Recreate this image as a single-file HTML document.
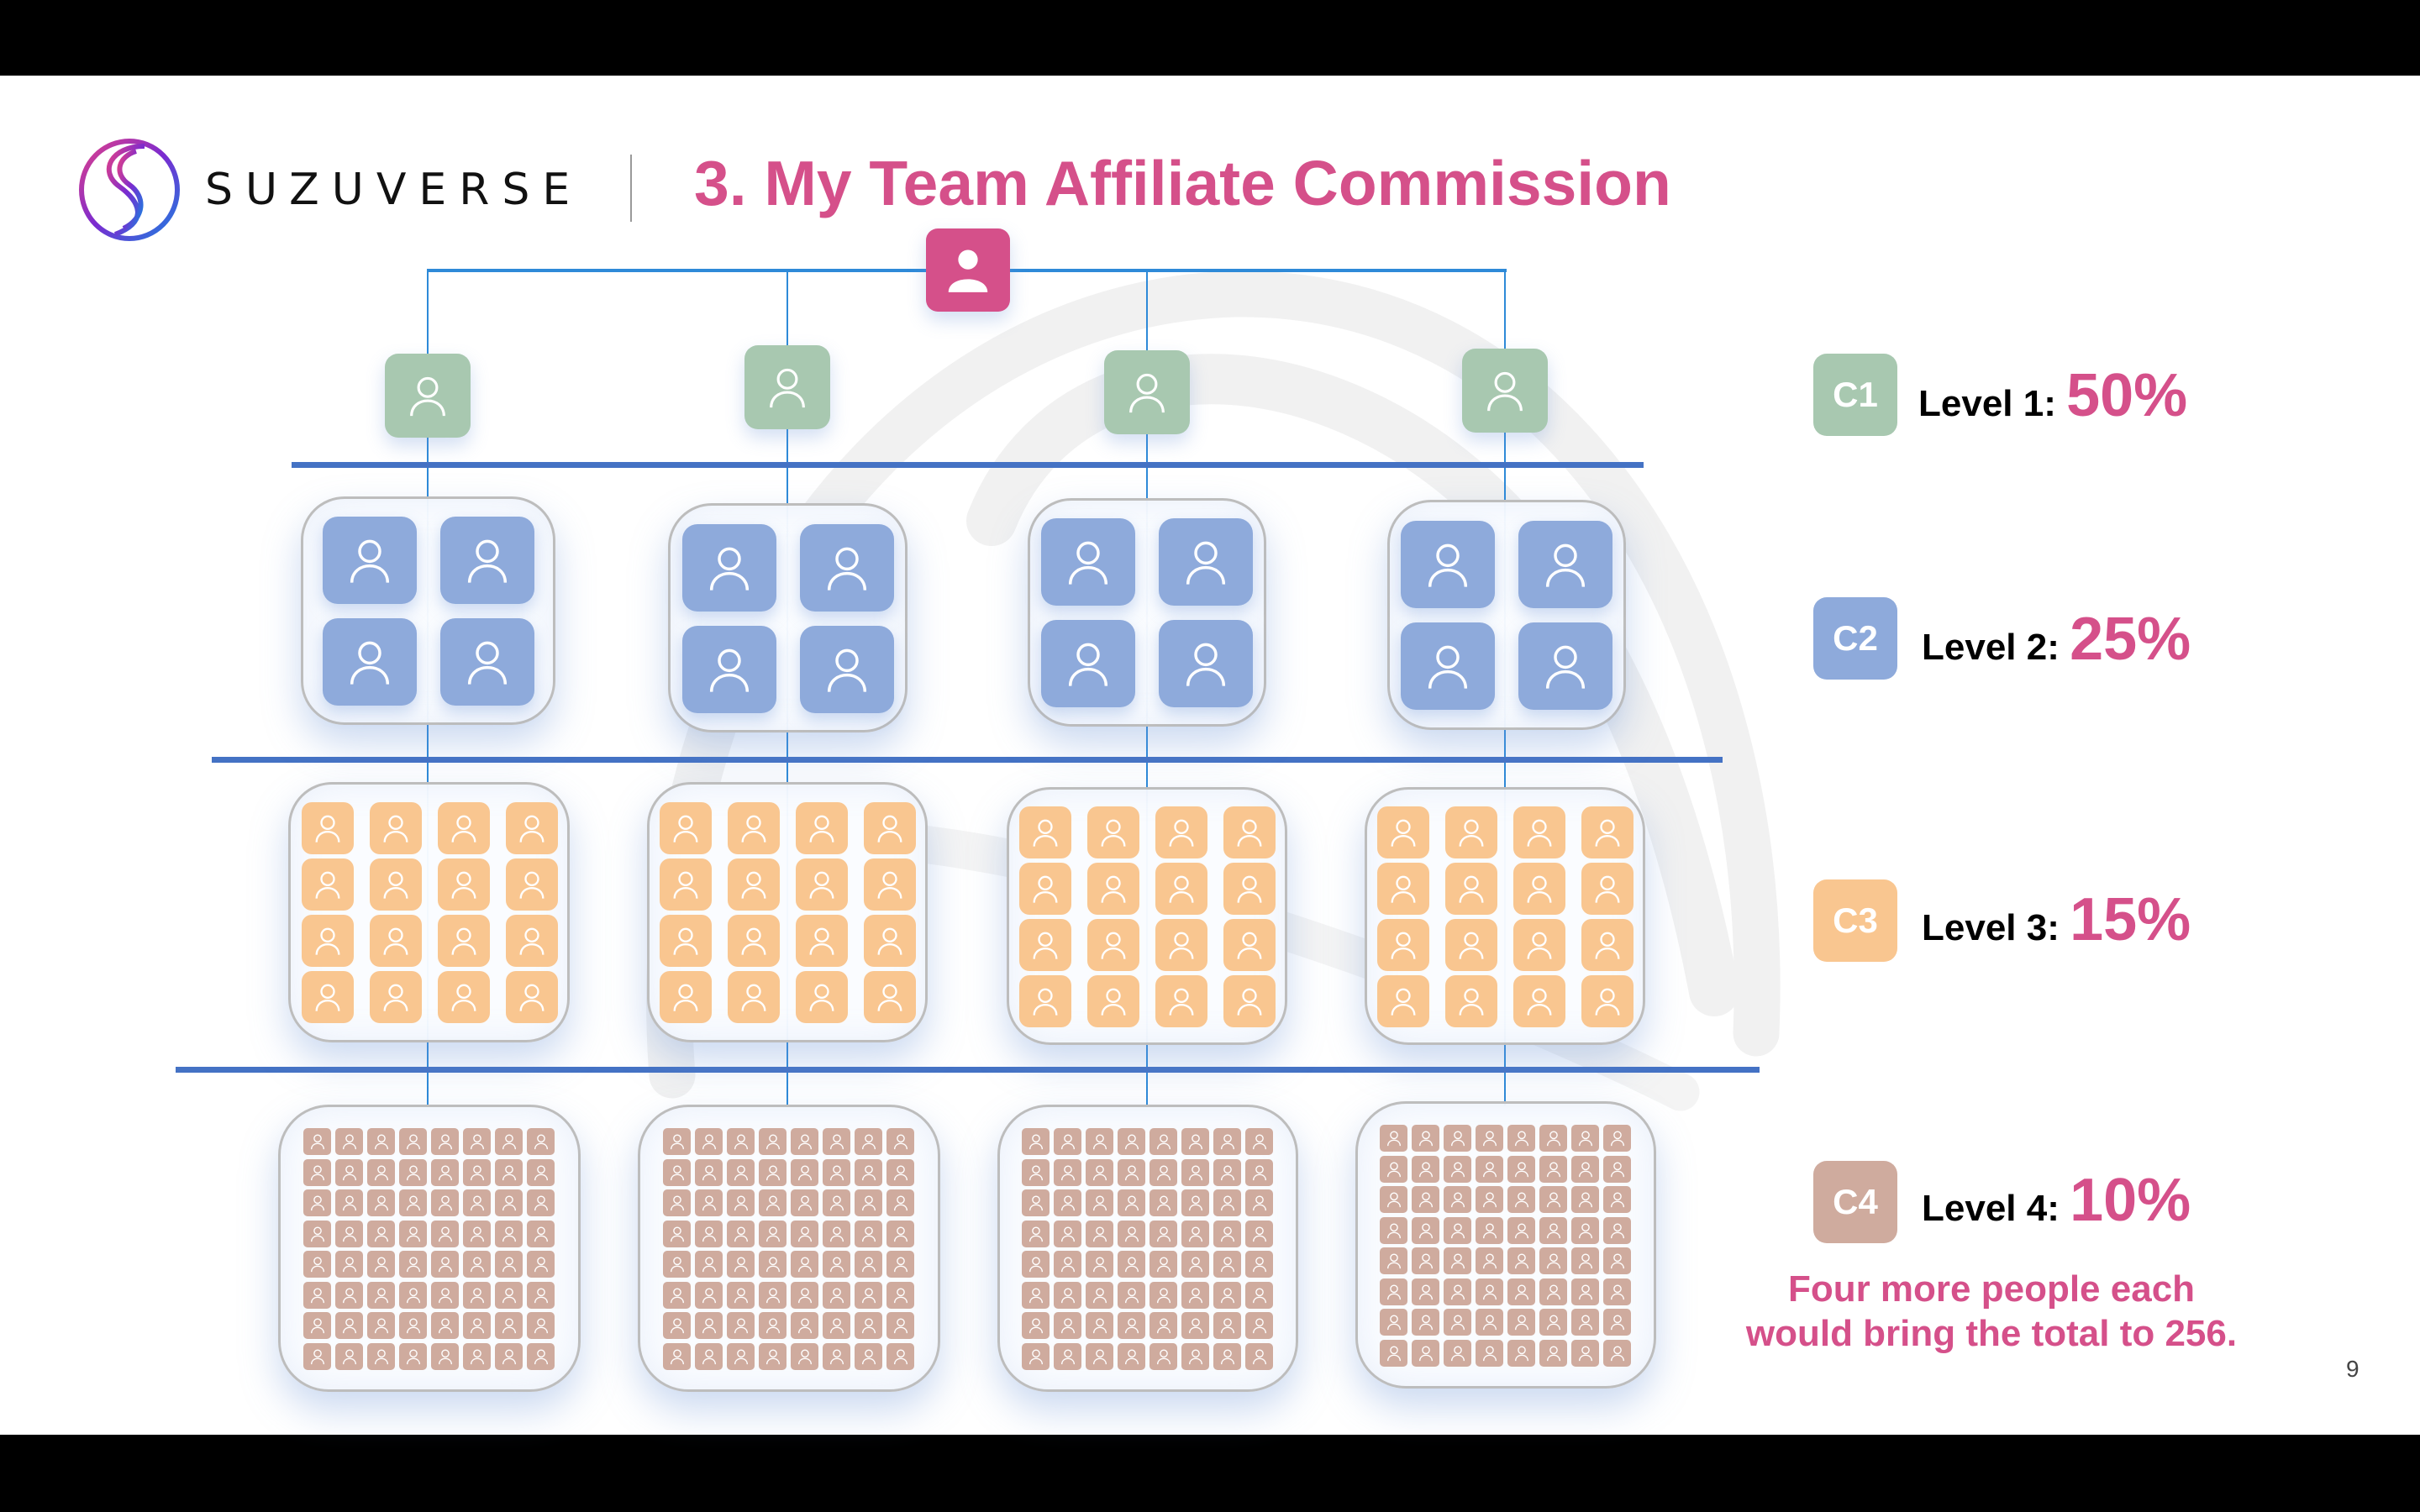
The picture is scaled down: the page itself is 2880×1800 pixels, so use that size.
<!DOCTYPE html>
<html><head><meta charset="utf-8">
<style>
html,body{margin:0;padding:0}
body{width:2880px;height:1800px;position:relative;overflow:hidden;background:#fff;font-family:"Liberation Sans",Arial,sans-serif}
.abs{position:absolute}
.bar{position:absolute;left:0;width:2880px;background:#000}
.box{position:absolute;border:3px solid #bdbdbd;border-radius:52px;background:rgba(250,252,255,0.97);box-shadow:0 22px 45px rgba(110,150,215,0.35), inset 0 0 40px rgba(140,170,220,0.15);box-sizing:border-box}
.tile{position:absolute;display:flex;align-items:center;justify-content:center;box-shadow:0 10px 22px rgba(110,150,215,0.3)}
.hl{position:absolute;background:#4472c4}
.vl{position:absolute;width:2px;background:#2e8ad8}
.lg{position:absolute;width:100px;height:98px;border-radius:16px;color:#fff;font-weight:bold;font-size:42px;display:flex;align-items:center;justify-content:center}
.lt{position:absolute;font-weight:bold;color:#000;font-size:44px;white-space:nowrap}
.lt b{color:#d5508a;font-size:72px}
</style></head><body>
<div class="bar" style="top:0;height:90px"></div>
<div class="bar" style="top:1708px;height:92px"></div>

<svg class="abs" style="left:0;top:0" width="2880" height="1800">
 <g fill="none" stroke="#f1f1f1" stroke-linecap="round">
  <path d="M800 1280 C760 760 1080 360 1470 350 C1860 345 2110 740 2090 1230" stroke-width="55"/>
  <path d="M1180 620 C1240 470 1400 420 1560 470 C1780 540 1960 760 2040 1180" stroke-width="60"/>
  <path d="M1050 1000 C1300 1020 1700 1150 2000 1300" stroke-width="45" stroke="#f4f4f4"/>
 </g>
</svg>

<!-- logo -->
<svg class="abs" style="left:92px;top:164px" width="124" height="124" viewBox="0 0 124 124">
 <defs><linearGradient id="g" x1="0" y1="0" x2="1" y2="1"><stop offset="0" stop-color="#e0408a"/><stop offset="0.5" stop-color="#7a2bd0"/><stop offset="1" stop-color="#1c7fe0"/></linearGradient></defs>
 <g fill="none" stroke="url(#g)" stroke-width="6">
  <ellipse cx="62" cy="62" rx="57" ry="58"/>
  <path d="M80 10 C40 10 25 40 50 58 C75 76 85 100 45 115"/>
  <path d="M70 16 C50 22 42 42 62 56 C82 70 80 96 55 108"/>
 </g>
</svg>
<div class="abs" style="left:244px;top:196px;font-size:52px;letter-spacing:15px;color:#111;font-family:'DejaVu Sans','Liberation Sans',sans-serif">SUZUVERSE</div>
<div class="abs" style="left:750px;top:184px;width:2px;height:80px;background:#999"></div>
<div class="abs" style="left:826px;top:175px;font-size:75px;font-weight:bold;color:#d5508a;white-space:nowrap">3. My Team Affiliate Commission</div>

<div id="d"></div>

<!-- legend -->
<div class="lg" style="left:2158px;top:421px;background:#a8c8b0">C1</div>
<div class="lt" style="left:2283px;top:430px">Level 1: <b>50%</b></div>
<div class="lg" style="left:2158px;top:711px;background:#8eaadb">C2</div>
<div class="lt" style="left:2287px;top:720px">Level 2: <b>25%</b></div>
<div class="lg" style="left:2158px;top:1047px;background:#f9c690">C3</div>
<div class="lt" style="left:2287px;top:1054px">Level 3: <b>15%</b></div>
<div class="lg" style="left:2158px;top:1382px;background:#cfab9e">C4</div>
<div class="lt" style="left:2287px;top:1388px">Level 4: <b>10%</b></div>
<div class="abs" style="left:2020px;top:1508px;width:700px;text-align:center;font-size:44px;font-weight:bold;color:#d5508a;line-height:53px">Four more people each<br>would bring the total to 256.</div>
<div class="abs" style="left:2792px;top:1614px;font-size:28px;color:#444">9</div>

<script>
var d=document.getElementById('d'),h='';
function person(sz,sw,fill){
 if(fill) return '<svg width="'+sz+'" height="'+sz+'" viewBox="0 0 24 24"><circle cx="12" cy="7" r="4.5" fill="#fff"/><path d="M3 22 C3 14 21 14 21 22 Z" fill="#fff"/></svg>';
 return '<svg width="'+sz+'" height="'+sz+'" viewBox="0 0 24 24" fill="none" stroke="#fff" stroke-width="'+sw+'"><circle cx="12" cy="8" r="4.5"/><path d="M4 22 C4 12 20 12 20 22"/></svg>';
}
var cx=[509,937,1365,1791];
h+='<div class="vl" style="left:508px;top:320px;height:4px;width:1285px;background:#2e8ad8"></div>';
cx.forEach(function(x){h+='<div class="vl" style="left:'+(x-1)+'px;top:321px;height:995px"></div>';});
h+='<div class="hl" style="left:347px;top:550px;width:1609px;height:7px"></div>';
h+='<div class="hl" style="left:252px;top:901px;width:1798px;height:7px"></div>';
h+='<div class="hl" style="left:209px;top:1270px;width:1885px;height:7px"></div>';
h+='<div class="tile" style="left:1102px;top:272px;width:100px;height:99px;border-radius:14px;background:#d5508a">'+person(62,0,1)+'</div>';
var c1t=[421,411,417,415];
cx.forEach(function(x,i){h+='<div class="tile" style="left:'+(x-51)+'px;top:'+c1t[i]+'px;width:102px;height:100px;border-radius:16px;background:#a8c8b0">'+person(58,1.3)+'</div>';});
function grid(x0,y0,n,tw,th,sx,sy,col,isz,sw,r,sh){
 for(var r_=0;r_<n;r_++)for(var c=0;c<n;c++)
  h+='<div class="tile" style="left:'+(x0+c*sx)+'px;top:'+(y0+r_*sy)+'px;width:'+tw+'px;height:'+th+'px;border-radius:'+r+'px;background:'+col+';box-shadow:'+(sh||'none')+'">'+person(isz,sw)+'</div>';
}
var l2=[[358,591,303,272],[795,599,285,273],[1223,593,284,272],[1651,595,284,274]];
l2.forEach(function(b){h+='<div class="box" style="left:'+b[0]+'px;top:'+b[1]+'px;width:'+b[2]+'px;height:'+b[3]+'px"></div>';
 var x0=b[0]+b[2]/2-126,y0=b[1]+b[3]/2-112;grid(x0,y0,2,112,104,140,121,'#8eaadb',64,1.3,18,'0 8px 18px rgba(110,150,215,0.35)');});
var l3=[[343,931,335,310],[770,931,334,310],[1198,937,334,307],[1624,937,334,307]];
l3.forEach(function(b){h+='<div class="box" style="left:'+b[0]+'px;top:'+b[1]+'px;width:'+b[2]+'px;height:'+b[3]+'px"></div>';
 var x0=b[0]+b[2]/2-152,y0=b[1]+b[3]/2-131;grid(x0,y0,4,62,62,81,67,'#f9c690',40,1.4,12);});
var l4=[[331,1315,360,342],[759,1315,360,342],[1187,1315,358,342],[1613,1311,358,342]];
l4.forEach(function(b){h+='<div class="box" style="left:'+b[0]+'px;top:'+b[1]+'px;width:'+b[2]+'px;height:'+b[3]+'px;border-radius:60px"></div>';
 var x0=b[0]+b[2]/2-150,y0=b[1]+b[3]/2-143;grid(x0,y0,8,33,32,38,36.5,'#cfab9e',22,1.5,5);});
d.innerHTML=h;
</script>
</body></html>
